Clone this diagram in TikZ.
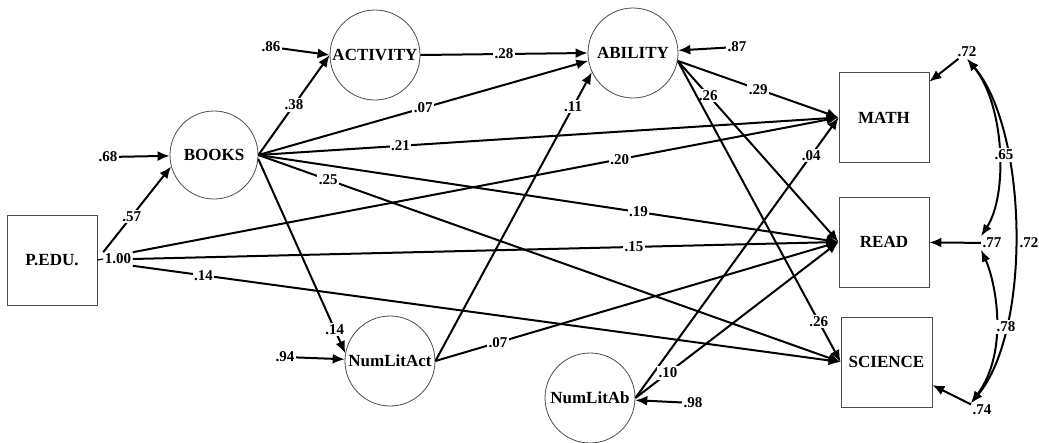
\documentclass[tikz,border=0pt]{standalone}
\usepackage{fontspec}
\setmainfont{Liberation Serif}
\usetikzlibrary{arrows.meta}
\begin{document}
\begin{tikzpicture}[x=1pt,y=-1pt,
  lat/.style={circle,draw=black!70,line width=0.8pt,minimum size=90pt,inner sep=0pt,font=\fontsize{17}{20}\selectfont\bfseries},
  obs/.style={rectangle,draw=black!70,line width=0.8pt,minimum width=90pt,minimum height=90pt,inner sep=0pt,font=\fontsize{17}{20}\selectfont\bfseries},
  lbl/.style={fill=white,inner sep=1.5pt,font=\fontsize{15}{18}\selectfont\bfseries},
  arr/.style={line width=2pt,-{Latex[length=12pt,width=10pt]}},
  cov/.style={line width=2pt,{Latex[length=12pt,width=9pt]}-{Latex[length=12pt,width=9pt]}},
]
\useasboundingbox[fill=white] (0,0) rectangle (1039,442);

% variables
\node[obs] (pedu) at (52,260) {P.EDU.};
\node[lat,minimum size=88pt] (books) at (214,155) {BOOKS};
\node[lat] (activity) at (375,55) {ACTIVITY};
\node[lat] (ability) at (633,53) {ABILITY};
\node[lat] (numlitact) at (390,361) {NumLitAct};
\node[lat] (numlitab) at (590,398) {NumLitAb};
\node[obs] (math) at (884,117.5) {MATH};
\node[obs] (read) at (884,242) {READ};
\node[obs,minimum width=91pt] (science) at (886.5,362) {SCIENCE};

% error / variance labels
\node[lbl] (l68) at (108,157) {.68};
\node[lbl] (l86) at (271,47) {.86};
\node[lbl] (l87) at (737,47) {.87};
\node[lbl] (l94) at (285,357) {.94};
\node[lbl] (l98) at (693,403) {.98};
\node[lbl] (l100) at (118,259) {1.00};
\node[lbl] (l72a) at (967,52) {.72};
\node[lbl] (l77) at (992,243) {.77};
\node[lbl] (l74) at (982,410) {.74};

% error arrows
\draw[arr] (l68) -- (books);
\draw[arr] (l86) -- (activity.west);
\draw[arr] (l87) -- (ability);
\draw[arr] (l94) -- (numlitact);
\draw[arr] (l98) -- (numlitab);
\draw[arr] (l72a) -- (math);
\draw[arr] (l77) -- (read);
\draw[arr] (l74) -- (science);
\draw[line width=1.2pt] (l100.west) -- (pedu.east);

% paths from P.EDU.
\draw[arr] (l100.north west) -- node[lbl,pos=0.42]{.57} (books.195);
\draw[arr] (l100.north east) -- node[lbl,pos=0.69]{.20} (math.west);
\draw[arr] (l100.east) -- node[lbl,pos=0.71]{.15} (read.west);
\draw[arr] (l100.south east) -- node[lbl,pos=0.1]{.14} (science.west);

% paths from BOOKS
\draw[arr] (books.east) -- node[lbl,pos=0.5]{.38} (activity.west);
\draw[arr] (books.east) -- node[lbl,pos=0.5]{.07} (ability.190);
\draw[arr] (books.east) -- node[lbl,pos=0.245]{.21} (math.west);
\draw[arr] (books.east) -- node[lbl,pos=0.655]{.19} (read.west);
\draw[arr] (books.east) -- node[lbl,pos=0.12]{.25} (science.west);
\draw[arr] (books.-5) -- node[lbl,pos=0.88]{.14} (numlitact.170);

% other paths
\draw[arr] (activity.east) -- node[lbl]{.28} (ability.west);
\draw[arr] (numlitact.east) -- node[lbl,pos=0.88]{.11} (ability.205);
\draw[arr] (numlitact.east) -- node[lbl,pos=0.155]{.07} (read.west);
\draw[arr] (ability.-10) -- node[lbl]{.29} (math.west);
\draw[arr] (ability.-10) -- node[lbl,pos=0.19]{.26} (read.west);
\draw[arr] (ability.-10) -- node[lbl,pos=0.866]{.26} (science.west);
\draw[arr] (numlitab.east) -- node[lbl,pos=0.865]{.04} (math.west);
\draw[arr] (numlitab.east) -- node[lbl,pos=0.16]{.10} (read.west);

% covariances
\draw[cov] (l72a.south) .. controls (1005,105) and (1008,195) .. (l77.north west);
\draw[cov] (l77.south west) .. controls (995,280) and (1010,350) .. (l74.north west);
\draw[cov] (l72a.south) .. controls (1028,130) and (1032,330) .. (l74.north west);
\node[lbl] (l65) at (1004,155) {.65};
\node[lbl] (l78) at (1006,327) {.78};
\node[lbl,fill=none,inner sep=0pt,anchor=east] (l72b) at (1038.5,243) {.72};
\end{tikzpicture}
\end{document}
